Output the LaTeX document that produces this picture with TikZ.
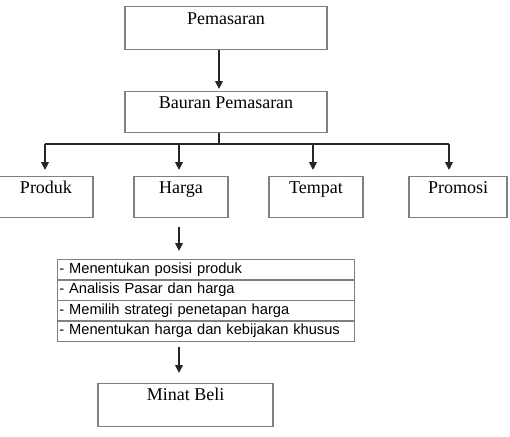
\documentclass[tikz,border=0pt]{standalone}
\usepackage{fontspec}
\setmainfont{Liberation Serif}
\setsansfont{Liberation Sans}
\usetikzlibrary{arrows.meta}
\begin{document}
\begin{tikzpicture}[x=0.75pt,y=-0.75pt,
  serifbox/.style={draw=black!50,line width=0.8pt,inner xsep=0pt,inner ysep=0pt,
    text height=13.3pt,text depth=18.7pt,anchor=north,font=\fontsize{13.5pt}{16pt}\selectfont},
  rowbox/.style={draw=black!50,line width=0.8pt,anchor=north west,minimum width=222.75pt,
    minimum height=15.2pt,inner xsep=1pt,inner ysep=0pt,text width=220pt,align=left,
    font=\sffamily\fontsize{11pt}{13pt}\selectfont},
  conn/.style={draw=black!85,line width=0.95pt},
  arr/.style={conn,-{Triangle[length=6pt,width=5.8pt]}}]
\useasboundingbox (0,0) rectangle (510,436);
% boxes
\node[serifbox,minimum width=151.5pt] (pem) at (226,6) {Pemasaran};
\node[serifbox,minimum width=151.5pt,text depth=18pt,text height=12.8pt] (bau) at (226,91) {Bauran Pemasaran};
\node[serifbox,minimum width=70.5pt,text depth=18pt,text height=12.8pt] (pro) at (46,176) {Produk};
\node[serifbox,minimum width=70.5pt,text depth=18pt,text height=12.8pt] (har) at (181,176) {Harga};
\node[serifbox,minimum width=70.5pt,text depth=18pt,text height=12.8pt] (tem) at (316,176) {Tempat};
\node[serifbox,minimum width=73.5pt,text depth=18pt,text height=12.8pt] (prm) at (458,176) {Promosi};
\node[rowbox] (r1) at (57,259) {- Menentukan posisi produk};
\node[rowbox] (r2) at (57,279.5) {- Analisis Pasar dan harga};
\node[rowbox] (r3) at (57,300) {- Memilih strategi penetapan harga};
\node[rowbox] (r4) at (57,320.5) {- Menentukan harga dan kebijakan khusus};
\node[serifbox,minimum width=131.25pt,text depth=19pt,text height=13pt] (min) at (185.5,383) {Minat Beli};
% connectors
\coordinate (cx) at (219,0);
\coordinate (br) at (219,144);
\coordinate (a1) at (45,144);
\coordinate (a2) at (179,144);
\coordinate (a3) at (313,144);
\coordinate (a4) at (449,144);
\draw[arr,shorten >=1.5pt] (pem.south -| cx) -- (bau.north -| cx);
\draw[conn] (bau.south -| br) -- (br);
\draw[conn] (a1) -- (a4);
\draw[arr,shorten >=4.5pt] (a1) -- (a1 |- pro.north);
\draw[arr,shorten >=4.5pt] (a2) -- (a2 |- har.north);
\draw[arr,shorten >=4.5pt] (a3) -- (a3 |- tem.north);
\draw[arr,shorten >=4.5pt] (a4) -- (a4 |- prm.north);
\draw[arr,shorten <=6.5pt,shorten >=6pt] (a2 |- har.south) -- (a2 |- r1.north);
\draw[arr,shorten <=3.5pt,shorten >=7.5pt] (a2 |- r4.south) -- (a2 |- min.north);
\end{tikzpicture}
\end{document}
